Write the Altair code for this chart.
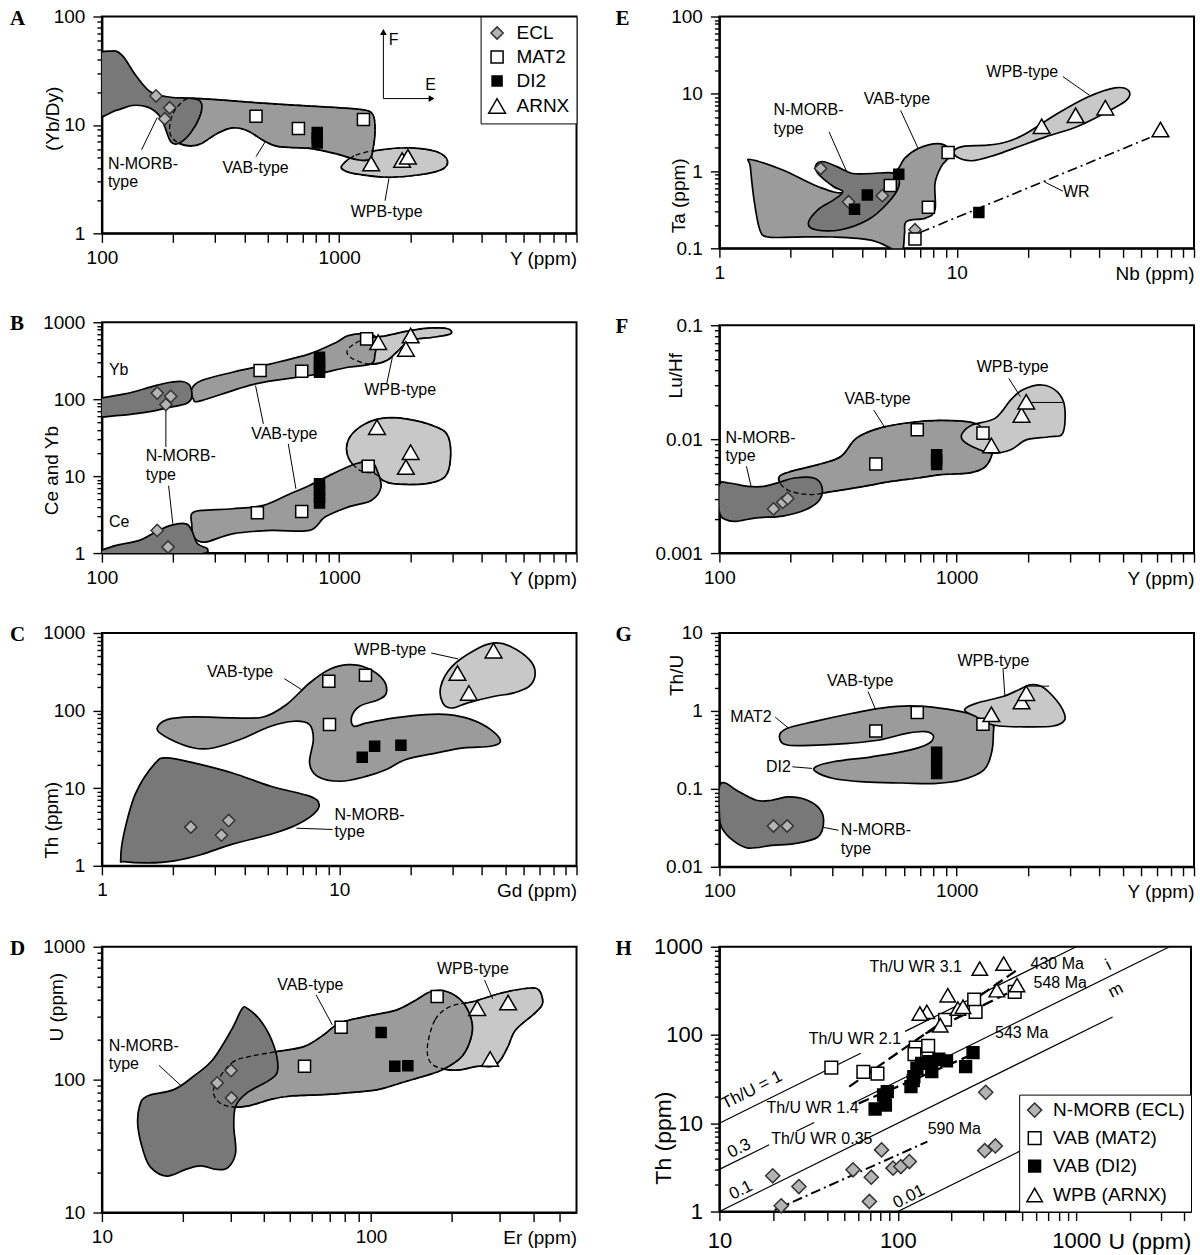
import json
import math
import altair as alt
import pandas as pd

FONT = "Liberation Sans"
SERIF = "Liberation Serif"
DARK, MID, LIGHT = "#787878", "#9b9b9b", "#c8c8c8"

GROUPS = ["ECL", "MAT2", "DI2", "ARNX"]
H_GROUPS = ["N-MORB (ECL)", "VAB (MAT2)", "VAB (DI2)", "WPB (ARNX)"]
GROUP_FILLS = ["#b4b4b4", "#ffffff", "#000000", "#ffffff"]
GROUP_STROKES = ["#333333", "#000000", "#000000", "#000000"]
GROUP_SHAPES = ["diamond", "square", "square", "triangle-up"]

# ---------------- Panel A : (Yb/Dy) vs Y ----------------
A_NMORB = [(92, 40), (110, 48), (122, 43.5), (139, 28.6), (161, 20), (195, 18), (244, 17.5), (263, 15.7),
           (258, 11.8), (235, 8.3), (210, 6.75), (195, 7.0), (184, 9.6), (174, 12.3), (156, 14.6),
           (134, 15.1), (115, 13.6), (92, 12.5)]
A_VAB = [(235, 17.5), (305, 17.1), (515, 15.7), (904, 14.6), (1265, 13.8), (1390, 12.3), (1416, 8.9),
         (1390, 6.07), (1340, 4.8), (1175, 4.8), (975, 5.4), (750, 6.07), (555, 6.3), (479, 7.2), (412, 8.8),
         (355, 9.4), (305, 8.3), (263, 6.75), (235, 6.4), (206, 7.0), (193, 8.6), (198, 12.3), (214, 15.7)]
A_WPB = [(1030, 4.27), (1175, 5.27), (1470, 5.86), (1985, 6.15), (2580, 5.65), (2860, 4.64), (2680, 3.84),
         (2140, 3.45), (1585, 3.29), (1175, 3.53), (1042, 3.84)]
A_ECL = [(169, 18.5), (193, 14.4), (184, 11.4)]
A_MAT2 = [(446, 12.0), (673, 9.25), (1265, 11.2)]
A_DI2 = [(808, 8.5), (808, 7.6), (808, 6.8)]
A_ARNX = [(1363, 4.4), (1841, 4.74), (1947, 5.08)]
A_LABELS = [("N-MORB-", 106, 4.4, "left"), ("type", 106, 3.0, "left"), ("VAB-type", 444, 4.0, "center"),
            ("WPB-type", 1585, 1.57, "center"), ("F", 1616, 61, "left"), ("E", 2429, 23.1, "center")]
A_LEADERS = [(147, 5.9, 171, 11.7), (446, 5.1, 488, 7.0), (1560, 2.0, 1620, 3.2),
             (1535, 17.5, 1535, 72), (1535, 17.5, 2450, 17.5)]
A_ARROW_UP = [(1535, 72)]
A_ARROW_RIGHT = [(2450, 17.5)]

# ---------------- Panel B : Ce and Yb vs Y ----------------
B_NMORB_YB = [(92, 95), (115, 112), (134, 123), (168, 150), (195, 166), (218, 170), (235, 150), (239, 106),
              (226, 87), (195, 79), (168, 71), (139, 65), (115, 61), (92, 60)]
B_VAB_YB = [(239, 136), (263, 175), (355, 224), (515, 288), (750, 388), (975, 550), (1090, 671), (1315, 705),
            (1443, 608), (1416, 388), (1365, 288), (1090, 260), (750, 203), (444, 158), (263, 96), (243, 100)]
B_WPB_YB = [(1080, 429), (1250, 590), (1585, 671), (1985, 780), (2485, 844), (2885, 819), (2940, 705),
            (2485, 638), (1985, 578), (1774, 429), (1585, 318), (1365, 285), (1150, 330)]
B_NMORB_CE = [(92, 1.0), (115, 1.26), (144, 1.46), (168, 1.87), (195, 2.29), (226, 2.4), (239, 1.97),
              (253, 1.32), (278, 1.14), (263, 0.98), (168, 0.98), (92, 0.98)]
B_VAB_CE = [(239, 3.24), (263, 3.58), (355, 3.77), (479, 4.16), (621, 5.9), (750, 7.57), (938, 10.7),
            (1175, 14.5), (1365, 15.2), (1443, 11.9), (1500, 7.2), (1365, 4.83), (1090, 3.96), (871, 2.94),
            (750, 1.97), (515, 1.97), (355, 1.78), (273, 1.39), (244, 1.61), (239, 2.4)]
B_WPB_CE = [(1090, 29), (1220, 43.3), (1470, 55.6), (1910, 55.6), (2580, 43.3), (2885, 32.1), (2940, 16.0),
            (2780, 9.7), (2305, 7.95), (1710, 7.95), (1528, 8.8), (1416, 10.7), (1220, 11.9), (1090, 17.7)]
B_ECL = [(171, 120), (195, 109), (186, 85), (171, 1.97), (190, 1.2)]
B_MAT2 = [(464, 236), (695, 231), (1305, 608), (452, 3.34), (695, 3.48), (1325, 13.4)]
B_DI2 = [(826, 351), (826, 303), (826, 248), (826, 224), (826, 7.95), (826, 6.5), (826, 5.33), (826, 4.46)]
B_ARNX = [(1460, 550), (2000, 671), (1910, 450), (1443, 43.3), (2000, 20.5), (1910, 13.1)]
B_LABELS = [("Yb", 107, 236, "left"), ("Ce", 107, 2.53, "left"), ("N-MORB-", 153, 18.5, "left"),
            ("type", 153, 10.2, "left"), ("VAB-type", 587, 35.5, "center"), ("WPB-type", 1807, 130, "center")]
B_LEADERS = [(186, 24, 186, 79), (191, 7.5, 199, 2.4), (479, 47.8, 444, 150), (610, 26.3, 657, 6.85),
             (1585, 158, 1675, 351)]

# ---------------- Panel C : Th vs Gd ----------------
C_NMORB = [(1.2, 1.21), (1.24, 2.66), (1.39, 8.7), (1.68, 21.2), (1.88, 24.6), (2.44, 21.2), (3.55, 15.7),
           (5.15, 10.6), (7.5, 7.9), (8.23, 6.2), (7.78, 4.6), (6.45, 3.25), (5.15, 2.55), (3.55, 1.9),
           (2.63, 1.4), (2.02, 1.16), (1.56, 1.09), (1.24, 1.13)]
C_VAB = [(1.71, 56.9), (1.88, 76.6), (2.44, 82.8), (3.55, 80.5), (4.79, 82.8), (5.98, 119), (7.5, 227),
         (9.04, 337), (10.9, 391), (13.1, 354), (15.3, 251), (15.8, 169), (14.7, 139), (12.2, 114),
         (11.3, 84.5), (11.5, 62.9), (13.1, 69.4), (17.1, 80.5), (23.1, 88.8), (28.8, 88.8), (36.1, 76.6),
         (43.5, 56.9), (47.8, 40.3), (43.5, 34.7), (33.5, 33), (25.8, 28.5), (19.1, 23.4), (15.8, 17.4),
         (13.1, 14.3), (10.1, 12.3), (8.08, 14.3), (7.5, 21.2), (7.78, 42.4), (7.5, 66), (6.45, 72.9),
         (5.15, 62.9), (3.82, 42.4), (2.94, 33), (2.44, 33), (1.95, 42.4)]
C_WPB = [(26.8, 206), (29.9, 372), (37.5, 610), (45.2, 744), (52.5, 674), (63.3, 454), (67, 305), (63.3, 206),
         (54.5, 169), (45.2, 153), (34.8, 126), (29.9, 108), (27.3, 126)]
C_ECL = [(2.37, 3.15), (3.19, 2.48), (3.42, 3.83)]
C_MAT2 = [(9.04, 239), (12.9, 285), (9.1, 66)]
C_DI2 = [(12.5, 25.1), (14.1, 34.7), (18.2, 35.8)]
C_ARNX = [(31.5, 305), (35.2, 169), (44.7, 592)]
C_LABELS = [("VAB-type", 3.82, 312, "center"), ("WPB-type", 16.4, 610, "center"),
            ("N-MORB-", 9.56, 4.58, "left"), ("type", 9.56, 2.74, "left")]
C_LEADERS = [(5.87, 258, 6.95, 186), (24.4, 553, 31.7, 463), (9.38, 2.94, 6.6, 3.05)]

# ---------------- Panel D : U vs Er ----------------
D_NMORB = [(13.8, 63.1), (14.7, 75), (18.5, 84.1), (21.9, 106), (25.8, 141), (30.3, 237), (33, 335),
           (34.6, 345), (39.5, 266), (43.6, 178), (45, 119), (42.2, 100), (34.6, 79.4), (31.4, 63.1),
           (30.9, 44.7), (31.4, 28.2), (29.4, 21.8), (26.6, 21.1), (23.3, 22.4), (20.5, 21.1), (17.4, 18.8),
           (15.2, 21.8), (14.3, 28.2), (13.6, 44.7)]
D_VAB = [(26.2, 89.1), (30.3, 133), (35.8, 150), (45, 163), (56.6, 178), (66.8, 218), (76.2, 266), (95.8, 299),
         (124.7, 335), (147, 398), (167, 460), (191, 460), (218, 387), (236, 282), (236, 211), (218, 150),
         (185, 119), (157, 106), (129, 94.4), (106, 84.1), (81.3, 79.4), (66.8, 77.1), (49.7, 75), (42.2, 70.8),
         (34.6, 63.1), (29.4, 63.1), (26.6, 70.8)]
D_WPB = [(162, 178), (173, 282), (197, 355), (240, 387), (303, 447), (381, 487), (420, 473), (434, 376),
         (406, 316), (345, 237), (323, 178), (303, 141), (283, 126), (248, 126), (218, 119), (191, 119),
         (167, 133)]
D_ECL = [(26.8, 94.4), (30.2, 117), (30.3, 72.9)]
D_MAT2 = [(56.6, 126), (77.4, 248), (176, 422)]
D_DI2 = [(109, 226), (122.5, 126), (137, 127)]
D_ARNX = [(248, 345), (323, 380), (277, 143)]
D_LABELS = [("N-MORB-", 10.6, 178, "left"), ("type", 10.6, 130, "left"), ("VAB-type", 59.5, 516, "center"),
            ("WPB-type", 239, 676, "center")]
D_LEADERS = [(16.3, 128, 19.8, 89), (62.5, 434, 71.8, 258), (264, 562, 283, 405)]

# ---------------- Panel E : Ta vs Nb ----------------
E_VAB = [(1.35, 1.41), (1.85, 1.03), (2.6, 0.63), (3.38, 0.526), (4.39, 0.805), (5.5, 0.98), (6.03, 1.46),
         (6.88, 1.96), (8.3, 2.27), (9.3, 1.96), (9.3, 1.53), (8.6, 1.14), (8.1, 0.69), (8.1, 0.315),
         (7.4, 0.246), (6.15, 0.223), (6.03, 0.157), (5.92, 0.095), (5.5, 0.095), (4.39, 0.127), (3.02, 0.14),
         (2.07, 0.14), (1.6, 0.14), (1.48, 0.174), (1.4, 0.42), (1.35, 1.14)]
E_NMORB = [(2.37, 0.212), (2.6, 0.315), (3.02, 0.42), (3.31, 0.54), (3.02, 0.63), (2.6, 0.93), (2.55, 1.19),
           (2.75, 1.32), (3.13, 1.14), (3.64, 0.93), (4.39, 0.93), (5.5, 0.93), (5.7, 0.63), (5.1, 0.38),
           (4.23, 0.234), (3.25, 0.174), (2.55, 0.174)]
E_WPB = [(9.8, 1.86), (10.8, 2.1), (13.5, 2.16), (16.3, 2.39), (19.6, 3.06), (26.5, 5.5), (35.7, 9.06),
         (46.4, 11.9), (53, 11.0), (51.9, 8.2), (41.5, 5.5), (31.9, 3.72), (23.7, 2.77), (18.2, 2.06),
         (14.5, 1.61), (11.6, 1.36), (10, 1.53)]
E_ECL = [(2.67, 1.08), (3.5, 0.40), (4.86, 0.48), (6.67, 0.174)]
E_MAT2 = [(5.25, 0.65), (7.6, 0.34), (9.2, 1.74), (6.67, 0.132)]
E_DI2 = [(3.71, 0.32), (4.2, 0.49), (5.7, 0.91), (12.4, 0.29)]
E_ARNX = [(22.8, 3.8), (31.7, 5.26), (42.3, 6.6), (72.2, 3.44)]
E_WR_LINE = [(7.0, 0.16, 65, 2.7)]
E_LABELS = [("N-MORB-", 1.69, 6.1, "left"), ("type", 1.69, 3.5, "left"), ("VAB-type", 5.6, 8.45, "center"),
            ("WPB-type", 18.9, 19.4, "center"), ("WR", 31.9, 0.53, "center")]
E_LEADERS = [(2.9, 3.2, 3.43, 1.0), (5.8, 6.1, 6.88, 1.96), (28, 16.7, 36.4, 9.5), (23.5, 0.72, 28, 0.55)]

# ---------------- Panel F : Lu/Hf vs Y ----------------
F_NMORB = [(100, 0.0040), (110, 0.00412), (132, 0.00385), (154, 0.00385), (179, 0.00418), (207, 0.00456),
           (250, 0.00456), (270, 0.00385), (265, 0.00295), (232, 0.00241), (185, 0.00211), (143, 0.00204),
           (118, 0.0019), (106, 0.00197), (100, 0.0023)]
F_VAB = [(179, 0.00471), (200, 0.00521), (260, 0.00597), (325, 0.00705), (378, 0.0102), (473, 0.0125),
         (638, 0.014), (861, 0.0146), (1161, 0.014), (1300, 0.0121), (1400, 0.00863), (1400, 0.00705),
         (1300, 0.00558), (1118, 0.00504), (861, 0.00488), (688, 0.00456), (529, 0.00426), (407, 0.00385),
         (302, 0.00348), (241, 0.00326), (200, 0.00348), (182, 0.00399)]
F_WPB = [(1057, 0.0113), (1161, 0.0133), (1455, 0.0153), (1690, 0.0221), (1890, 0.027), (2280, 0.0299),
         (2650, 0.0261), (2850, 0.0193), (2800, 0.0113), (2455, 0.0105), (1963, 0.00986), (1690, 0.00807),
         (1400, 0.00755), (1161, 0.00863), (1057, 0.00986)]
F_ECL = [(169, 0.00244), (185, 0.00279), (194, 0.00301)]
F_MAT2 = [(456, 0.00604), (682, 0.0121), (1290, 0.0113)]
F_DI2 = [(823, 0.0073), (823, 0.0066), (823, 0.0060)]
F_ARNX = [(1400, 0.0088), (1876, 0.0163), (1963, 0.0213)]
F_LABELS = [("N-MORB-", 106, 0.0102, "left"), ("type", 106, 0.00705, "left"), ("VAB-type", 464, 0.0225, "center"),
            ("WPB-type", 1722, 0.0432, "center")]
F_LEADERS = [(130, 0.00577, 136, 0.00385), (447, 0.018, 500, 0.0125), (1658, 0.0342, 1854, 0.0236),
             (2000, 0.021, 2800, 0.021)]

# ---------------- Panel G : Th/U vs Y ----------------
G_NMORB = [(100, 0.106), (106, 0.119), (118, 0.096), (143, 0.0714), (166, 0.0714), (193, 0.0789), (224, 0.0751),
           (260, 0.0586), (275, 0.0395), (260, 0.0241), (207, 0.0198), (166, 0.0188), (132, 0.0174),
           (114, 0.0218), (102, 0.0324), (100, 0.0481)]
G_VAB = [(179, 0.468), (193, 0.598), (250, 0.729), (364, 0.933), (473, 1.08), (638, 1.16), (861, 1.08),
         (1118, 0.933), (1400, 0.729), (1427, 0.515), (1400, 0.285), (1300, 0.174), (1038, 0.129), (799, 0.117),
         (592, 0.119), (407, 0.123), (302, 0.136), (255, 0.166), (255, 0.192), (302, 0.223), (439, 0.258),
         (592, 0.3), (741, 0.365), (799, 0.468), (741, 0.542), (615, 0.515), (473, 0.424), (351, 0.384),
         (260, 0.365), (193, 0.365)]
G_WPB = [(1079, 1.03), (1206, 1.25), (1567, 1.53), (1820, 1.86), (2037, 2.16), (2280, 2.06), (2550, 1.53),
         (2800, 1.03), (2850, 0.766), (2550, 0.641), (1963, 0.625), (1510, 0.641), (1349, 0.694), (1206, 0.845)]
G_ECL = [(169, 0.0334), (193, 0.0334)]
G_MAT2 = [(456, 0.552), (682, 0.953), (1290, 0.673)]
G_DI2 = [(823, 0.294), (823, 0.216), (823, 0.157)]
G_ARNX = [(1400, 0.906), (1876, 1.32), (1963, 1.69)]
G_LABELS = [("WPB-type", 1427, 4.32, "center"), ("VAB-type", 392, 2.39, "center"), ("MAT2", 166, 0.83, "right"),
            ("DI2", 200, 0.192, "right"), ("N-MORB-", 325, 0.0294, "left"), ("type", 325, 0.0171, "left")]
G_LEADERS = [(1567, 3.54, 1596, 1.53), (423, 1.77, 456, 1.03), (172, 0.83, 196, 0.598),
             (203, 0.192, 246, 0.183), (275, 0.032, 318, 0.0294), (1963, 2.08, 2450, 2.08)]

# ---------------- Panel H : Th vs U ----------------
H_ECL = [(19.9, 2.54), (22.2, 1.16), (27.9, 1.92), (56.1, 2.97), (71, 2.45), (69.3, 1.3), (81.1, 4.99),
         (94, 3.1), (104, 3.23), (116, 3.68), (311, 22.4), (307, 4.9), (352, 5.53)]
H_MAT2 = [(42.4, 42.7), (64.1, 38.2), (76.9, 36.5), (126, 72), (148, 75.2), (124, 60.8), (184, 149),
          (268, 252), (273, 183), (452, 308)]
H_DI2 = [(74.6, 14.5), (85.2, 16.1), (83.2, 20.9), (87.3, 22.8), (118.5, 26), (123, 33.7), (128, 42),
         (136, 47.8), (149, 49.9), (155, 38.5), (170, 53.1), (187.5, 50.8), (240, 43.8), (264, 63.1), (122, 30.4)]
H_ARNX = [(288, 565), (392, 644), (190.6, 282), (145.5, 183), (133, 175), (173, 129), (217, 199), (232, 209),
          (359, 322), (466, 367)]
# Th/U reference ratios and the U ranges over which each line is drawn
H_RATIO_LINES = [(1, 10, 62), (1, 110, 1000), (0.3, 10, 19), (0.3, 27, 34), (0.3, 55, 3333),
                 (0.1, 10, 1600), (0.01, 100, 490)]
H_AGE_LINES = [(53.4, 26, 466, 545, "long"), (143, 104, 490, 352, "long"), (60.4, 16.8, 285, 64.7, "long"),
               (20.4, 1.04, 146.5, 6.2, "dashdot")]
H_LABELS = [("Th/U WR 3.1", 126, 590, "center"), ("Th/U WR 2.1", 57.5, 91, "center"),
            ("Th/U WR 1.4", 33.3, 14.7, "center"), ("Th/U WR 0.35", 37.5, 6.7, "center"),
            ("430 Ma", 555, 632, "left"), ("548 Ma", 577, 389, "left"), ("543 Ma", 351, 104, "left"),
            ("590 Ma", 147, 8.7, "left")]
H_ROT_LABELS = [("Th/U = 1", 15.2, 23.7), ("0.3", 12.9, 5.17), ("0.1", 13.2, 1.74), ("0.01", 115.5, 1.47),
                ("i", 1514, 616), ("m", 1667, 321)]


# ============================ helpers ============================
def log_ticks(lo, hi):
    vals = []
    k = math.floor(math.log10(lo) + 1e-9)
    while True:
        for m in range(1, 10):
            v = round(m * 10 ** k, 10)
            if v > hi * 1.0001:
                return vals
            if v >= lo * 0.9999:
                vals.append(v)
        k += 1


def lab_expr(labels):
    return "indexof(%s, datum.value) >= 0 ? format(datum.value, '~g') : ''" % json.dumps(labels)


def poly_df(pts):
    return pd.DataFrame({"x": [p[0] for p in pts], "y": [p[1] for p in pts], "i": list(range(len(pts)))})


def seg_df(segs):
    return pd.DataFrame({"x": [s[0] for s in segs], "y": [s[1] for s in segs],
                         "x2": [s[2] for s in segs], "y2": [s[3] for s in segs]})


def build_panel(sp):
    fs = sp.get("fs", 19)
    tfs = sp.get("tfs", 19)
    afs = sp.get("afs", 16)
    xaxis = alt.Axis(values=log_ticks(*sp["xdom"]), labelExpr=lab_expr(sp["xlab"]), title=sp["xtitle"],
                     titleX=sp["w"], titleY=sp.get("xpad", 24) + 1, titleAlign="right", titleBaseline="middle",
                     titleFontSize=tfs, titleFontWeight="normal", titleFont=FONT,
                     labelFontSize=fs, labelFont=FONT, labelBaseline="middle",
                     labelPadding=sp.get("xpad", 24) - 9, tickSize=9,
                     labelFlush=False, labelOverlap=False, grid=False)
    ytest = "indexof(%s, datum.value) >= 0" % json.dumps(sp["ylab"])
    yaxis = alt.Axis(values=log_ticks(*sp["ydom"]), labelExpr=lab_expr(sp["ylab"]), title=sp["ytitle"],
                     titleX=sp["ytx"], titleY=sp["yty"], titleAngle=270, titleAlign="center",
                     titleBaseline="middle", titleFontSize=tfs, titleFontWeight="normal", titleFont=FONT,
                     labelFontSize=fs, labelFont=FONT, labelPadding=8,
                     tickSize={"condition": {"test": ytest, "value": 9}, "value": 5},
                     labelFlush=False, labelOverlap=False, grid=False)
    X = alt.X("x:Q", scale=alt.Scale(type="log", domain=sp["xdom"], nice=False), axis=xaxis)
    Y = alt.Y("y:Q", scale=alt.Scale(type="log", domain=sp["ydom"], nice=False), axis=yaxis)

    layers = []
    for pts, col in sp.get("regions", []):
        layers.append(alt.Chart(poly_df(pts)).mark_line(
            fill=col, stroke="black", strokeWidth=1.7, interpolate="cardinal-closed", clip=True,
            strokeJoin="round").encode(x=X, y=Y, order=alt.Order("i:Q")))
    for pts in sp.get("dashed", []):
        layers.append(alt.Chart(poly_df(pts)).mark_line(
            stroke="black", strokeWidth=1.3, strokeDash=[5, 3], interpolate="cardinal-closed", clip=True
        ).encode(x=X, y=Y, order=alt.Order("i:Q")))
    for extra in sp.get("extra", []):
        layers.append(extra(X, Y))
    if sp.get("leaders"):
        layers.append(alt.Chart(seg_df(sp["leaders"])).mark_rule(color="black", strokeWidth=1, clip=True)
                      .encode(x=X, y=Y, x2="x2:Q", y2="y2:Q"))
    labels = sp.get("labels", [])
    for al in ["left", "center", "right"]:
        rows = [l for l in labels if l[3] == al]
        if rows:
            df = pd.DataFrame({"t": [r[0] for r in rows], "x": [r[1] for r in rows], "y": [r[2] for r in rows]})
            layers.append(alt.Chart(df).mark_text(align=al, baseline="middle", font=FONT, fontSize=afs,
                                                  color="black").encode(x=X, y=Y, text="t:N"))
    # sample points
    dom = sp.get("groups", GROUPS)
    rows = []
    for g, pts in zip(dom, sp["points"]):
        for p in pts:
            rows.append({"x": p[0], "y": p[1], "g": g})
    leg = sp.get("legend", None)
    sizes = sp.get("sizes", [150, 145, 100, 280])
    layers.append(alt.Chart(pd.DataFrame(rows)).mark_point(
        filled=True, strokeWidth=1.5, opacity=1).encode(
        x=X, y=Y,
        fill=alt.Fill("g:N", scale=alt.Scale(domain=dom, range=GROUP_FILLS), legend=leg),
        stroke=alt.Stroke("g:N", scale=alt.Scale(domain=dom, range=GROUP_STROKES), legend=leg),
        shape=alt.Shape("g:N", scale=alt.Scale(domain=dom, range=GROUP_SHAPES), legend=leg),
        size=alt.Size("g:N", scale=alt.Scale(type="ordinal", domain=dom, range=sizes), legend=leg)))
    # panel letter
    layers.append(alt.Chart(pd.DataFrame({"t": [sp["letter"]]})).mark_text(
        font=SERIF, fontSize=21, fontWeight="bold", align="left", baseline="middle", color="black").encode(
        x=alt.value(sp["ldx"]), y=alt.value(2), text="t:N"))
    return alt.layer(*layers).properties(width=sp["w"], height=sp["h"])


def spacer(h):
    return alt.Chart(pd.DataFrame({"a": [0]})).mark_point(opacity=0).encode(
        x=alt.value(0), y=alt.value(0)).properties(width=10, height=h, view=alt.ViewBackground(strokeOpacity=0))


legend_A = alt.Legend(orient="top-right", offset=0, title=None, strokeColor="black", fillColor="white",
                      padding=7, rowPadding=4, labelFont=FONT, labelFontSize=19, labelOffset=10,
                      symbolStrokeWidth=1.5, labelExpr="datum.label + '      '")
legend_H = alt.Legend(orient="bottom-right", offset=0, title=None, strokeColor="black", fillColor="white",
                      padding=6, rowPadding=8, labelFont=FONT, labelFontSize=19, labelOffset=9,
                      symbolStrokeWidth=1.5, labelExpr="datum.label + ' '")


def arrow_heads(X, Y):
    up = alt.Chart(poly_df(A_ARROW_UP)).mark_point(shape="triangle-up", filled=True, color="black", size=45,
                                                    opacity=1).encode(x=X, y=Y)
    rt = alt.Chart(poly_df(A_ARROW_RIGHT)).mark_point(shape="triangle-right", filled=True, color="black", size=45,
                                                       opacity=1).encode(x=X, y=Y)
    return alt.layer(up, rt)


def wr_line(X, Y):
    return alt.Chart(seg_df(E_WR_LINE)).mark_rule(color="black", strokeWidth=1.6, strokeDash=[10, 4, 2, 4]).encode(
        x=X, y=Y, x2="x2:Q", y2="y2:Q")


def h_lines(X, Y):
    ref = seg_df([(u0, r * u0, u1, r * u1) for r, u0, u1 in H_RATIO_LINES])
    ref_layer = alt.Chart(ref).mark_rule(color="black", strokeWidth=1.2, clip=True).encode(
        x=X, y=Y, x2="x2:Q", y2="y2:Q")
    long_df = seg_df([l[:4] for l in H_AGE_LINES if l[4] == "long"])
    dd_df = seg_df([l[:4] for l in H_AGE_LINES if l[4] == "dashdot"])
    long_layer = alt.Chart(long_df).mark_rule(color="black", strokeWidth=2.3, strokeDash=[11, 5]).encode(
        x=X, y=Y, x2="x2:Q", y2="y2:Q")
    dd_layer = alt.Chart(dd_df).mark_rule(color="black", strokeWidth=2.0, strokeDash=[10, 4, 2, 4]).encode(
        x=X, y=Y, x2="x2:Q", y2="y2:Q")
    rot = pd.DataFrame({"t": [r[0] for r in H_ROT_LABELS], "x": [r[1] for r in H_ROT_LABELS],
                        "y": [r[2] for r in H_ROT_LABELS]})
    rot_layer = alt.Chart(rot).mark_text(angle=333, align="center", baseline="middle", font=FONT, fontSize=17,
                                         color="black").encode(x=X, y=Y, text="t:N")
    return alt.layer(ref_layer, long_layer, dd_layer, rot_layer)


A = build_panel(dict(letter="A", ldx=-92, w=475, h=217, xdom=[100, 10000], ydom=[1, 100], xlab=[100, 1000],
                     ylab=[1, 10, 100], xtitle="Y (ppm)", ytitle="(Yb/Dy)", ytx=-49, yty=102,
                     regions=[(A_WPB, LIGHT), (A_VAB, MID), (A_NMORB, DARK)], dashed=[A_WPB, A_VAB],
                     extra=[arrow_heads], leaders=A_LEADERS, labels=A_LABELS,
                     points=[A_ECL, A_MAT2, A_DI2, A_ARNX], legend=legend_A))
B = build_panel(dict(letter="B", ldx=-92, w=475, h=231, xdom=[100, 10000], ydom=[1, 1000], xlab=[100, 1000],
                     ylab=[1, 10, 100, 1000], xtitle="Y (ppm)", ytitle="Ce and Yb", ytx=-50, yty=148,
                     regions=[(B_WPB_YB, LIGHT), (B_WPB_CE, LIGHT), (B_VAB_YB, MID), (B_VAB_CE, MID),
                              (B_NMORB_YB, DARK), (B_NMORB_CE, DARK)], dashed=[B_WPB_YB, B_WPB_CE],
                     leaders=B_LEADERS, labels=B_LABELS, points=[B_ECL, B_MAT2, B_DI2, B_ARNX]))
C = build_panel(dict(letter="C", ldx=-92, w=475, h=233, xdom=[1, 100], ydom=[1, 1000], xlab=[1, 10],
                     ylab=[1, 10, 100, 1000], xtitle="Gd (ppm)", ytitle="Th (ppm)", ytx=-50, yty=187,
                     regions=[(C_VAB, MID), (C_WPB, LIGHT), (C_NMORB, DARK)],
                     leaders=C_LEADERS, labels=C_LABELS, points=[C_ECL, C_MAT2, C_DI2, C_ARNX]))
D = build_panel(dict(letter="D", ldx=-92, w=475, h=266, xdom=[10, 580], ydom=[10, 1000], xlab=[10, 100],
                     ylab=[10, 100, 1000], xtitle="Er (ppm)", ytitle="U (ppm)", ytx=-45, yty=60,
                     regions=[(D_WPB, LIGHT), (D_VAB, MID), (D_NMORB, DARK)], dashed=[D_WPB, D_VAB],
                     leaders=D_LEADERS, labels=D_LABELS, points=[D_ECL, D_MAT2, D_DI2, D_ARNX]))
E = build_panel(dict(letter="E", ldx=-104, w=475, h=232, xdom=[1, 100], ydom=[0.1, 100], xlab=[1, 10],
                     ylab=[0.1, 1, 10, 100], xtitle="Nb (ppm)", ytitle="Ta (ppm)", ytx=-41, yty=179,
                     regions=[(E_VAB, MID), (E_NMORB, DARK), (E_WPB, LIGHT)], extra=[wr_line],
                     leaders=E_LEADERS, labels=E_LABELS, points=[E_ECL, E_MAT2, E_DI2, E_ARNX]))
F = build_panel(dict(letter="F", ldx=-104, w=475, h=228, xdom=[100, 10000], ydom=[0.001, 0.1],
                     xlab=[100, 1000], ylab=[0.001, 0.01, 0.1], xtitle="Y (ppm)", ytitle="Lu/Hf", ytx=-44, yty=50,
                     regions=[(F_VAB, MID), (F_WPB, LIGHT), (F_NMORB, DARK)], dashed=[F_VAB],
                     leaders=F_LEADERS, labels=F_LABELS, points=[F_ECL, F_MAT2, F_DI2, F_ARNX]))
G = build_panel(dict(letter="G", ldx=-104, w=475, h=234, xdom=[100, 10000], ydom=[0.01, 10],
                     xlab=[100, 1000], ylab=[0.01, 0.1, 1, 10], xtitle="Y (ppm)", ytitle="Th/U", ytx=-43, yty=42,
                     regions=[(G_NMORB, DARK), (G_VAB, MID), (G_WPB, LIGHT)],
                     leaders=G_LEADERS, labels=G_LABELS, points=[G_ECL, G_MAT2, G_DI2, G_ARNX]))
H = build_panel(dict(letter="H", ldx=-104, w=472, h=265, xdom=[10, 4400], ydom=[1, 1000], xlab=[10, 100, 1000],
                     ylab=[1, 10, 100, 1000], xtitle="U (ppm)", ytitle="Th (ppm)", ytx=-56, yty=191,
                     fs=22, tfs=23, afs=16, xpad=29, sizes=[200, 160, 140, 240], extra=[h_lines],
                     labels=H_LABELS, groups=H_GROUPS, points=[H_ECL, H_MAT2, H_DI2, H_ARNX], legend=legend_H))

left = alt.vconcat(A, spacer(89), B, spacer(80), C, spacer(81), D, spacing=0, bounds="flush").resolve_scale(
    fill="independent", shape="independent", stroke="independent", size="independent")
right = alt.vconcat(E, spacer(77), F, spacer(80), G, spacer(80), H, spacing=0, bounds="flush").resolve_scale(
    fill="independent", shape="independent", stroke="independent", size="independent")

chart = alt.hconcat(left, right, spacing=36).resolve_scale(
    fill="independent", shape="independent", stroke="independent", size="independent"
).properties(
    padding={"left": 9, "top": 6, "right": 4, "bottom": 4}, background="white"
).configure_view(
    stroke="black", strokeWidth=2
).configure_axis(
    domainColor="black", domainWidth=2, tickColor="black", tickWidth=1.4, labelColor="black",
    titleColor="black", grid=False
)

chart.save("out.html", embed_options={"renderer": "svg", "actions": False})
